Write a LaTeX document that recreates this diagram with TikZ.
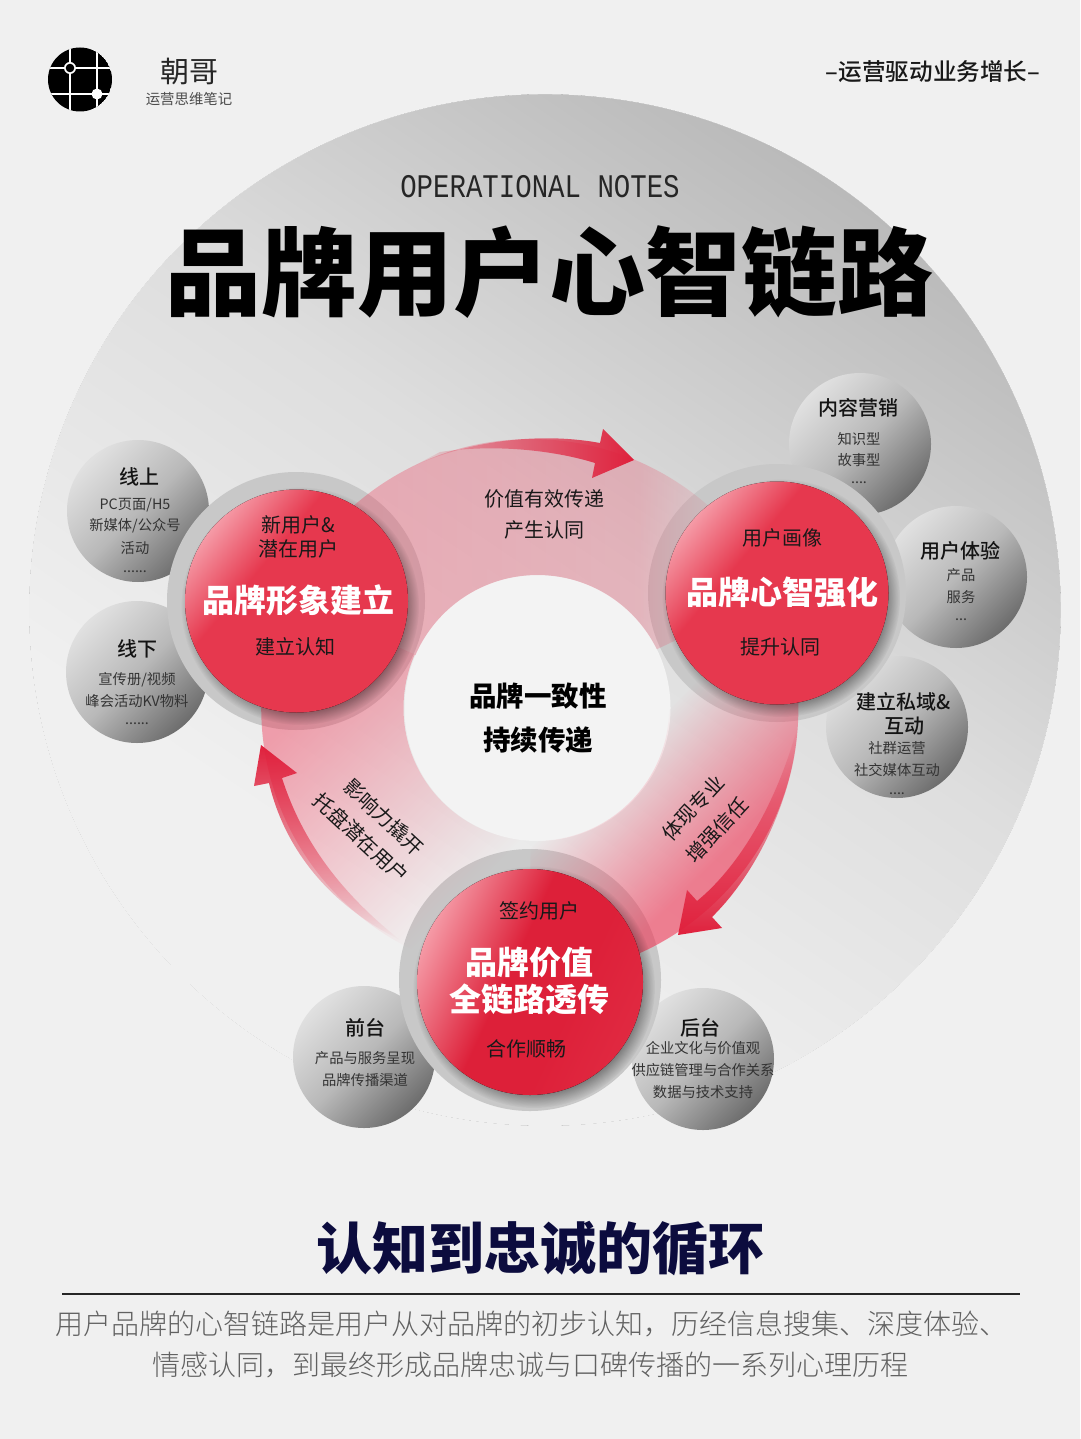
\documentclass[tikz,border=0pt]{standalone}
\usepackage{fontspec}
\setmainfont{Noto Sans CJK SC}
\newfontfamily\cjkblack{Noto Sans CJK SC Black}
\newfontfamily\cjkmedium{Noto Sans CJK SC Medium}
\newfontfamily\cjklight{Noto Sans CJK SC Light}
\newfontfamily\monotext{Liberation Mono}
\usetikzlibrary{fadings}
\definecolor{bgc}{HTML}{F0F0F0}
\definecolor{ringred}{HTML}{F03050}
\definecolor{arrowred}{HTML}{E0203C}
\definecolor{ballred}{HTML}{E6384E}
\definecolor{ballpink}{HTML}{F59AA6}
\definecolor{balldeep}{HTML}{DD2039}
\definecolor{navyc}{HTML}{0C0C3E}
\definecolor{haloc}{HTML}{C8C8C8}
\definecolor{holec}{HTML}{F3F3F3}
\definecolor{discmid}{HTML}{DEDEDE}
\definecolor{disctop}{HTML}{BABABA}
\colorlet{transp}{pgftransparent}
\pgfdeclareverticalshading{bigdisc}{100bp}{color(0bp)=(bgc); color(34bp)=(bgc); color(54bp)=(discmid); color(75bp)=(disctop); color(100bp)=(disctop)}
\pgfdeclareverticalshading{redball}{100bp}{color(0bp)=(ballred); color(61bp)=(ballred); color(75bp)=(ballpink); color(100bp)=(ballpink)}
\pgfdeclareverticalshading{redballdeep}{100bp}{color(0bp)=(ballred); color(40bp)=(balldeep); color(55bp)=(balldeep); color(75bp)=(ballpink); color(100bp)=(ballpink)}
\pgfdeclarehorizontalshading{topfs}{100bp}{color(0bp)=(transp!66); color(25bp)=(transp!66); color(60bp)=(transp!76); color(70bp)=(transp!100); color(100bp)=(transp!100)}
\pgfdeclarefading{topfade}{\pgfuseshading{topfs}}
\pgfdeclarehorizontalshading{rightfs}{100bp}{color(0bp)=(transp!100); color(59bp)=(transp!100); color(72bp)=(transp!42); color(100bp)=(transp!42)}
\pgfdeclarefading{rightfade}{\pgfuseshading{rightfs}}
\pgfdeclarehorizontalshading{leftfs}{100bp}{color(0bp)=(transp!58); color(35bp)=(transp!58); color(58bp)=(transp!100); color(100bp)=(transp!100)}
\pgfdeclarefading{leftfade}{\pgfuseshading{leftfs}}
\tikzset{
  satdisc/.style={top color=white!88!black,bottom color=gray!85!black,middle color=gray!55!white,shading angle=45},
  halodisc/.style={fill=haloc},
  ringpart/.style={fill=ringred,even odd rule},
  sh/.style={black,path fading=circle with fuzzy edge 15 percent,fill opacity=.45},
  tt/.style={inner sep=0pt,text=black!92,font=\cjkmedium\fontsize{20}{24}\selectfont},
  ts/.style={inner sep=0pt,text=black!80,font=\fontsize{14.3}{17}\selectfont},
  tw/.style={inner sep=0pt,text=white,font=\cjkblack\fontsize{32}{38}\selectfont},
  tr/.style={inner sep=0pt,text=black!90,font=\fontsize{20}{24}\selectfont},
}
\begin{document}
\begin{tikzpicture}[x=1pt,y=-1pt]
\fill[bgc] (0,0) rectangle (1080,1439);
\useasboundingbox (0,0) rectangle (1080,1439);
% big disc
\fill[shading=bigdisc,shading angle=-34] (545,610) circle (516);
\draw[bgc,line width=1.6pt] (545,610) circle (516.6);
\fill[holec] (537.5,708) circle (133);
% satellites
\foreach \cx/\cy in {138/511,137/672,860/444,956/577,897/727,364/1057,703/1059}
  \shade[satdisc] (\cx,\cy) circle (71);
% halos
\fill[halodisc] (296,601) circle (129);
\fill[halodisc] (777,593) circle (129);
\fill[halodisc] (530,980) circle (131);
% ring sectors
\begin{scope}
\clip (531,708) -- (63,494) -- (63,300) -- (1023,300) -- (1023,478) -- cycle;
\fill[ringpart,path fading=topfade] (531,708) circle (269) (537.5,708) circle (133);
\end{scope}
\begin{scope}
\clip (531,708) -- (1023,478) -- (1023,1000) -- (530,1000) -- cycle;
\fill[ringpart,path fading=rightfade,fading angle=-45] (531,708) circle (269) (537.5,708) circle (133);
\end{scope}
\begin{scope}
\clip (531,708) -- (530,1000) -- (63,1000) -- (63,494) -- cycle;
\fill[ringpart,path fading=leftfade,fading angle=-45] (531,708) circle (269) (537.5,708) circle (133);
\end{scope}
% swoosh arrows
\fill[arrowred,path fading=west] (400,473) .. controls (450,445) and (530,430) .. (600,443) -- (603,429) -- (634,460) -- (592,478) -- (595,463) .. controls (560,452) and (500,443) .. (440,452) -- cycle;
\fill[arrowred,path fading=north] (798,725) .. controls (795,790) and (760,870) .. (712,917) -- (722,928) -- (678,935) -- (687,890) -- (697,901) .. controls (735,870) and (775,810) .. (798,725) -- cycle;
\fill[arrowred,path fading=south] (269,783) .. controls (285,850) and (330,905) .. (400,940) .. controls (350,900) and (305,850) .. (282,778) -- (297,773) -- (261,745) -- (254,786) -- cycle;
% shadows + balls
\fill[sh] (300,606) circle (119);
\fill[sh] (781,598) circle (119);
\fill[sh] (534,987) circle (121);
\fill[shading=redball,shading angle=50] (296.5,601) circle (111.5);
\fill[shading=redball,shading angle=50] (777,593) circle (111.5);
\fill[shading=redballdeep,shading angle=65] (530,982) circle (113);
% logo
\begin{scope}
\clip (80,79.5) circle (32);
\fill[black] (80,79.5) circle (32);
\draw[white,line width=1.6pt] (70,40) -- (70,120) (97,40) -- (97,120) (40,68) -- (120,68) (40,94) -- (120,94);
\end{scope}
\fill[white] (70,68) circle (6);
\fill[black] (70,68) circle (4.3);
\fill[white] (97,94) circle (5.5);
% header texts
\node[inner sep=0pt,text=black!85,font=\fontsize{29}{34}\selectfont] (brand) at (189,71) {朝哥};
\node[inner sep=0pt,text=black!70,font=\fontsize{14.4}{17}\selectfont] (brandsub) at (189,99) {运营思维笔记};
\node[inner sep=0pt,text=black!90,font=\cjkmedium\fontsize{23.6}{28}\selectfont] (slogan) at (933,71.5) {–运营驱动业务增长–};
\node[inner sep=0pt,text=black!85,xscale=.83,font=\monotext\fontsize{33}{38}\selectfont] (opnotes) at (540,186.5) {OPERATIONAL NOTES};
\node[inner sep=0pt,text=black,font=\cjkblack\fontsize{96}{110}\selectfont] (title) at (549,272) {品牌用户心智链路};
% center
\node[inner sep=0pt,text=black,font=\cjkblack\fontsize{27.5}{32}\selectfont] (c1) at (538,696) {品牌一致性};
\node[inner sep=0pt,text=black,font=\cjkblack\fontsize{27.5}{32}\selectfont] (c2) at (538,740) {持续传递};
% ring labels
\node[tr] (r1) at (544,499) {价值有效传递};
\node[tr] (r2) at (544,530) {产生认同};
\node[tr,rotate=-43] (r3) at (384,817) {影响力撬开};
\node[tr,rotate=-43] (r4) at (361,838) {托盘潜在用户};
\node[tr,rotate=47] (r5) at (693,808) {体现专业};
\node[tr,rotate=47] (r6) at (717,830) {增强信任};
% left main
\node[tr] (a1) at (298,525) {新用户\&};
\node[tr] (a2) at (298,549) {潜在用户};
\node[tw] (a3) at (298,600) {品牌形象建立};
\node[tr] (a4) at (295,647) {建立认知};
% right main
\node[tr] (b1) at (782,538) {用户画像};
\node[tw] (b2) at (782,592) {品牌心智强化};
\node[tr] (b3) at (780,647) {提升认同};
% bottom main
\node[tr] (d1) at (539,911) {签约用户};
\node[tw] (d2) at (529,962) {品牌价值};
\node[tw] (d3) at (529,999) {全链路透传};
\node[tr] (d4) at (526,1049) {合作顺畅};
% satellites text
\node[tt] (s11) at (139,477) {线上};
\node[ts] (s12) at (135,505) {PC页面/H5};
\node[ts] (s13) at (135,526) {新媒体/公众号};
\node[ts] (s14) at (135,548) {活动};
\node[ts] (s15) at (135,572) {......};
\node[tt] (s21) at (137,649) {线下};
\node[ts] (s22) at (137,680) {宣传册/视频};
\node[ts] (s23) at (137,701) {峰会活动KV物料};
\node[ts] (s24) at (137,724) {......};
\node[tt] (s31) at (858,408) {内容营销};
\node[ts] (s32) at (859,439) {知识型};
\node[ts] (s33) at (859,460) {故事型};
\node[ts] (s34) at (859,483) {....};
\node[tt] (s41) at (960,551) {用户体验};
\node[ts] (s42) at (961,575) {产品};
\node[ts] (s43) at (961,597) {服务};
\node[ts] (s44) at (961,620) {...};
\node[tt] (s51) at (904,702) {建立私域\&};
\node[tt] (s52) at (904,726) {互动};
\node[ts] (s53) at (897,748) {社群运营};
\node[ts] (s54) at (897,770) {社交媒体互动};
\node[ts] (s55) at (897,794) {....};
\node[tt] (s61) at (365,1028) {前台};
\node[ts] (s62) at (365,1058) {产品与服务呈现};
\node[ts] (s63) at (365,1080) {品牌传播渠道};
\node[tt] (s71) at (700,1028) {后台};
\node[ts] (s72) at (703,1048) {企业文化与价值观};
\node[ts] (s73) at (703,1070) {供应链管理与合作关系};
\node[ts] (s74) at (703,1092) {数据与技术支持};
% footer
\node[inner sep=0pt,text=navyc,font=\cjkblack\fontsize{56}{64}\selectfont] (foot) at (540,1249) {认知到忠诚的循环};
\coordinate (ruleL) at (62,1294);
\coordinate (ruleR) at (1020,1294);
\draw[black!85,line width=2pt] (ruleL) -- (ruleR);
\node[inner sep=0pt,anchor=west,text=black!62,font=\cjklight\fontsize{28}{32}\selectfont] (body1) at (55,1324) {用户品牌的心智链路是用户从对品牌的初步认知，历经信息搜集、深度体验、};
\node[inner sep=0pt,text=black!62,font=\cjklight\fontsize{28}{32}\selectfont] (body2) at (530,1365) {情感认同，到最终形成品牌忠诚与口碑传播的一系列心理历程};
\end{tikzpicture}
\end{document}
